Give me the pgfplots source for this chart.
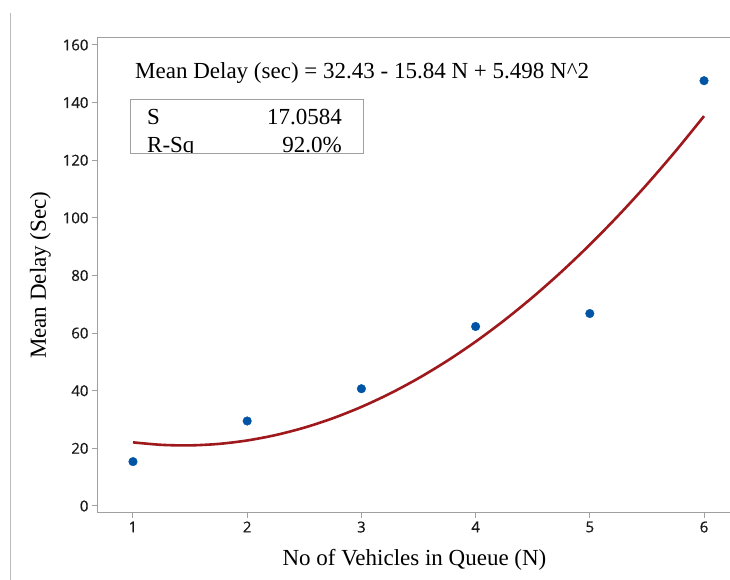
\documentclass[border=0pt]{standalone}
\usepackage{pgfplots}
\pgfplotsset{compat=1.18}
\usepackage{fontspec}
\setmainfont{Liberation Serif}
\newfontfamily\ticksans[FakeBold=0.6]{Open Sans}

\definecolor{pointblue}{RGB}{0,84,166}
\definecolor{fitred}{RGB}{158,24,28}
\definecolor{framegray}{RGB}{160,160,160}

\begin{document}
\begin{tikzpicture}
\useasboundingbox (0pt,0pt) rectangle (730pt,580pt);
% thin rule at the left edge of the graph window
\draw[framegray!70, line width=1pt] (10pt,0pt) -- (10pt,567pt);
\begin{axis}[
  at={(97pt,67pt)}, anchor=south west,
  scale only axis, width=635pt, height=475.5pt,
  xmin=0.685, xmax=6.245, ymin=-2.43, ymax=162.6,
  xtick={1,2,3,4,5,6}, ytick={0,20,...,160},
  axis line style={framegray, line width=1pt},
  tick style={framegray, line width=1pt},
  tick align=outside, major tick length=5pt,
  xtick pos=bottom, ytick pos=left,
  ticklabel style={font=\ticksans\fontsize{15}{17}\selectfont, text=black!90},
  /pgf/number format/assume math mode=true,
  xlabel={No of Vehicles in Queue (N)},
  ylabel={Mean Delay (Sec)},
  label style={font=\fontsize{23}{26}\selectfont},
  xlabel style={yshift=-10pt},
  ylabel style={yshift=5pt},
  clip=false,
]
% observed mean delays
\addplot[only marks, mark=*, mark size=4.3pt, color=pointblue] coordinates {
  (1,15.4) (2,29.5) (3,40.7) (4,62.3) (5,66.8) (6,147.6)
};
% fitted quadratic: 32.43 - 15.84 N + 5.498 N^2
\addplot[color=fitred, line width=2.6pt, smooth] coordinates {
  (1,22.088) (1.25,21.221) (1.5,21.041) (1.75,21.548) (2,22.742)
  (2.25,24.624) (2.5,27.193) (2.75,30.449) (3,34.392) (3.25,39.023)
  (3.5,44.341) (3.75,50.346) (4,57.038) (4.25,64.418) (4.5,72.485)
  (4.75,81.238) (5,90.680) (5.25,100.807) (5.5,111.625) (5.75,123.128)
  (6,135.318)
};
\end{axis}
% regression equation and summary table
\node[anchor=base west, font=\fontsize{23}{26}\selectfont, inner sep=0pt] at (135pt,501pt) {Mean Delay (sec) = 32.43 - 15.84 N + 5.498 N\textasciicircum 2};
\begin{scope}
  \clip (130pt,426pt) rectangle (363pt,480pt);
  \node[anchor=base west, font=\fontsize{23}{26}\selectfont, inner sep=0pt] at (147pt,455pt) {S};
  \node[anchor=base east, font=\fontsize{23}{26}\selectfont, inner sep=0pt] at (342pt,455pt) {17.0584};
  \node[anchor=base west, font=\fontsize{23}{26}\selectfont, inner sep=0pt] at (147pt,427pt) {R-Sq};
  \node[anchor=base east, font=\fontsize{23}{26}\selectfont, inner sep=0pt] at (342pt,427pt) {92.0\%};
\end{scope}
\draw[framegray, line width=1pt] (130pt,426pt) rectangle (363pt,480pt);
\end{tikzpicture}
\end{document}
